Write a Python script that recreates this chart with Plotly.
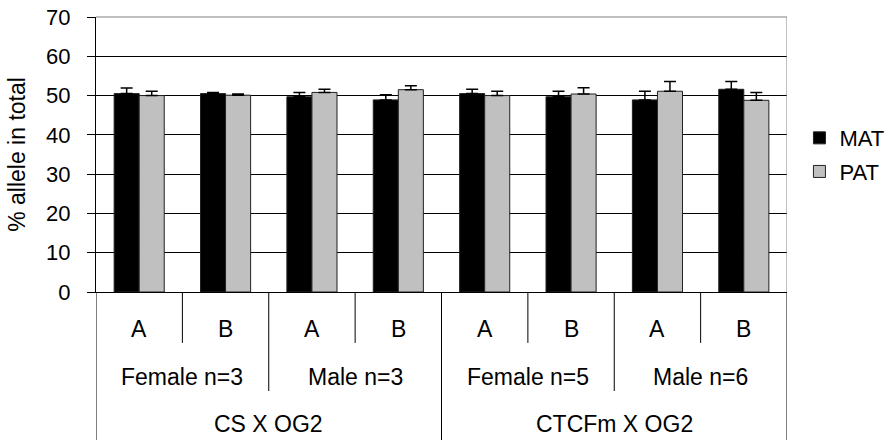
import plotly.graph_objects as go

# ---- data ----
sites = ["A", "B", "A", "B", "A", "B", "A", "B"]
sexes = ["Female n=3", "Male n=3", "Female n=5", "Male n=6"]
crosses = ["CS X OG2", "CTCFm X OG2"]
mat = [50.5, 50.5, 49.7, 48.9, 50.5, 49.7, 48.9, 51.6]
mat_err = [1.4, 0.3, 1.1, 1.3, 1.1, 1.4, 2.2, 2.0]
pat = [50.0, 50.1, 50.8, 51.5, 50.0, 50.4, 51.1, 48.8]
pat_err = [1.1, 0.3, 0.8, 1.0, 1.1, 1.6, 2.5, 2.0]
y_ticks = [0, 10, 20, 30, 40, 50, 60, 70]

FONT = "Liberation Sans, Arial, sans-serif"
FS = 23

xs = list(range(len(sites)))

fig = go.Figure()
fig.add_trace(go.Bar(
    x=xs, y=mat, name="MAT", legendgroup="mat",
    marker=dict(color="#000000", line=dict(color="#222222", width=1)),
    error_y=dict(type="data", symmetric=False, array=mat_err,
                 arrayminus=[0] * len(mat_err), color="#000000",
                 thickness=1.5, width=6),
))
fig.add_trace(go.Bar(
    x=xs, y=pat, name="PAT", legendgroup="pat",
    marker=dict(color="#C0C0C0", line=dict(color="#222222", width=1)),
    error_y=dict(type="data", symmetric=False, array=pat_err,
                 arrayminus=[0] * len(pat_err), color="#000000",
                 thickness=1.5, width=6),
))

n = len(sites)
annotations = []
shapes = []
tf = dict(family=FONT, size=FS, color="#000")
for i, s in enumerate(sites):
    annotations.append(dict(x=i, y=-0.1345, xref="x", yref="paper", text=s,
                            xanchor="center", yanchor="middle", showarrow=False, font=tf))
for j, s in enumerate(sexes):
    annotations.append(dict(x=2 * j + 0.5, y=-0.309, xref="x", yref="paper", text=s,
                            xanchor="center", yanchor="middle", showarrow=False, font=tf))
for k, s in enumerate(crosses):
    annotations.append(dict(x=4 * k + 1.5, y=-0.48, xref="x", yref="paper", text=s,
                            xanchor="center", yanchor="middle", showarrow=False, font=tf))

line = dict(color="#000000", width=1)
for i in range(1, n):
    if i % 4 == 0:
        y1 = -0.54
    elif i % 2 == 0:
        y1 = -0.36
    else:
        y1 = -0.185
    shapes.append(dict(type="line", xref="x", yref="paper", x0=i - 0.5, x1=i - 0.5,
                       y0=0, y1=y1, line=line))
shapes.append(dict(type="line", xref="x", yref="paper", x0=-0.5, x1=-0.5, y0=0, y1=-0.54, line=line))
shapes.append(dict(type="line", xref="x", yref="paper", x0=n - 0.5, x1=n - 0.5, y0=0, y1=-0.54, line=line))
# gray plot-area border (top and right)
gray = dict(color="#808080", width=1)
shapes.append(dict(type="line", xref="x", yref="paper", x0=n - 0.5, x1=n - 0.5, y0=0, y1=1, line=gray))
shapes.append(dict(type="line", xref="x", yref="paper", x0=-0.5, x1=n - 0.5, y0=1, y1=1, line=gray))

fig.update_layout(
    width=891, height=440,
    margin=dict(l=96, r=104, t=17, b=148, autoexpand=False),
    paper_bgcolor="white", plot_bgcolor="white",
    font=dict(family=FONT, size=FS, color="#000"),
    barmode="group", bargap=0.42, bargroupgap=0,
    showlegend=True,
    legend=dict(x=1.018, y=0.498, xanchor="left", yanchor="middle",
                font=dict(family=FONT, size=22), tracegroupgap=2,
                bgcolor="rgba(0,0,0,0)"),
    annotations=annotations, shapes=shapes,
    xaxis=dict(range=[-0.5, n - 0.5], showticklabels=False, ticks="",
               showgrid=False, zeroline=False, showline=True,
               linecolor="#000", linewidth=1),
    yaxis=dict(range=[0, 70], tickvals=y_ticks, ticks="outside", ticklen=8,
               tickcolor="#000", showline=True, linecolor="#000", linewidth=1,
               showgrid=True, gridcolor="#000", gridwidth=1, zeroline=False,
               ticklabelstandoff=12, ticklabeloverflow="allow",
               title=dict(text="% allele in total", font=dict(family=FONT, size=FS), standoff=14),
               tickfont=dict(family=FONT, size=22)),
)

fig.write_html("out.html", config={"displayModeBar": False},
               post_script="document.body.style.margin='0';document.body.style.overflow='hidden';")
